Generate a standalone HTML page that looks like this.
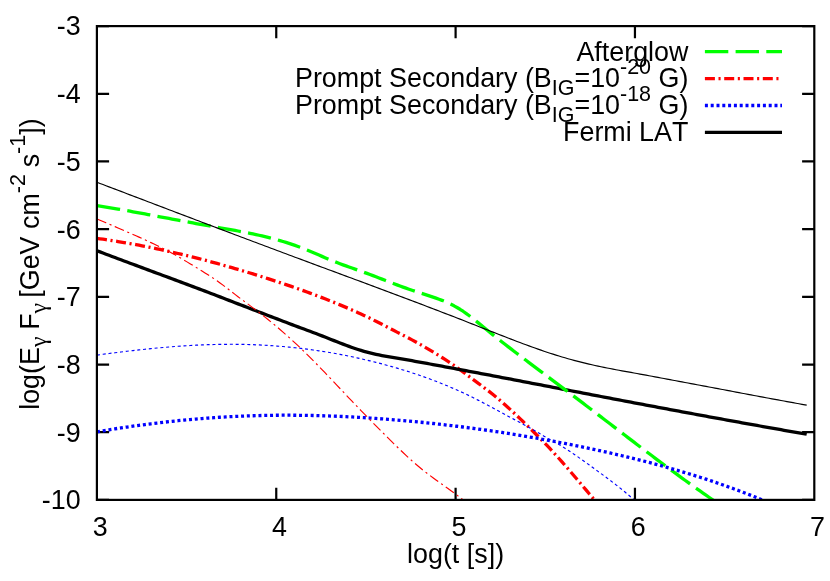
<!DOCTYPE html>
<html><head><meta charset="utf-8"><title>plot</title>
<style>
html,body{margin:0;padding:0;background:#fff;}
svg{display:block;will-change:transform;}
text{font-family:"Liberation Sans",sans-serif;fill:#000;font-kerning:none;}
</style></head><body>
<svg width="830" height="581" viewBox="0 0 830 581">
<rect x="0" y="0" width="830" height="581" fill="#fff"/>
<defs><clipPath id="cp"><rect x="96.90" y="26.10" width="717.40" height="473.80"/></clipPath></defs>
<g stroke="#000" stroke-width="2.2" fill="none" stroke-linecap="butt">
<path d="M276.25,499.90 V487.70 M276.25,26.10 V38.30"/>
<path d="M455.60,499.90 V487.70 M455.60,26.10 V38.30"/>
<path d="M634.95,499.90 V487.70 M634.95,26.10 V38.30"/>
<path d="M96.90,26.10 H109.10 M814.30,26.10 H802.10"/>
<path d="M96.90,93.79 H109.10 M814.30,93.79 H802.10"/>
<path d="M96.90,161.47 H109.10 M814.30,161.47 H802.10"/>
<path d="M96.90,229.16 H109.10 M814.30,229.16 H802.10"/>
<path d="M96.90,296.84 H109.10 M814.30,296.84 H802.10"/>
<path d="M96.90,364.53 H109.10 M814.30,364.53 H802.10"/>
<path d="M96.90,432.21 H109.10 M814.30,432.21 H802.10"/>
<path d="M96.90,499.90 H109.10 M814.30,499.90 H802.10"/>
</g>
<g clip-path="url(#cp)" fill="none" stroke-linecap="butt" stroke-linejoin="round">
<path d="M97.0,238.41 L100.0,238.81 L103.0,239.23 L106.0,239.67 L109.0,240.11 L112.0,240.57 L115.0,241.04 L118.0,241.52 L121.0,242.01 L124.0,242.52 L127.0,243.03 L130.0,243.56 L133.0,244.10 L136.0,244.65 L139.0,245.21 L142.0,245.78 L145.0,246.37 L148.0,246.96 L151.0,247.57 L154.0,248.18 L157.0,248.81 L160.0,249.45 L163.0,250.10 L166.0,250.76 L169.0,251.42 L172.0,252.10 L175.0,252.79 L178.0,253.49 L181.0,254.20 L184.0,254.92 L187.0,255.65 L190.0,256.39 L193.0,257.13 L196.0,257.89 L199.0,258.66 L202.0,259.44 L205.0,260.22 L208.0,261.01 L211.0,261.82 L214.0,262.63 L217.0,263.45 L220.0,264.28 L223.0,265.12 L226.0,265.97 L229.0,266.82 L232.0,267.68 L235.0,268.56 L238.0,269.44 L241.0,270.32 L244.0,271.22 L247.0,272.12 L250.0,273.03 L253.0,273.95 L256.0,274.88 L259.0,275.81 L262.0,276.76 L265.0,277.71 L268.0,278.67 L271.0,279.63 L274.0,280.61 L277.0,281.60 L280.0,282.59 L283.0,283.60 L286.0,284.61 L289.0,285.64 L292.0,286.67 L295.0,287.72 L298.0,288.78 L301.0,289.85 L304.0,290.92 L307.0,292.02 L310.0,293.12 L313.0,294.23 L316.0,295.36 L319.0,296.50 L322.0,297.66 L325.0,298.82 L328.0,300.00 L331.0,301.20 L334.0,302.40 L337.0,303.63 L340.0,304.86 L343.0,306.12 L346.0,307.39 L349.0,308.68 L352.0,309.99 L355.0,311.32 L358.0,312.67 L361.0,314.05 L364.0,315.44 L367.0,316.86 L370.0,318.31 L373.0,319.78 L376.0,321.28 L379.0,322.80 L382.0,324.34 L385.0,325.89 L388.0,327.45 L391.0,329.01 L394.0,330.56 L397.0,332.10 L400.0,333.63 L403.0,335.16 L406.0,336.70 L409.0,338.26 L412.0,339.85 L415.0,341.47 L418.0,343.14 L421.0,344.84 L424.0,346.57 L427.0,348.33 L430.0,350.11 L433.0,351.92 L436.0,353.76 L439.0,355.61 L442.0,357.49 L445.0,359.41 L448.0,361.38 L451.0,363.39 L454.0,365.45 L457.0,367.58 L460.0,369.75 L463.0,371.96 L466.0,374.20 L469.0,376.44 L472.0,378.68 L475.0,380.90 L478.0,383.12 L481.0,385.34 L484.0,387.58 L487.0,389.86 L490.0,392.18 L493.0,394.56 L496.0,397.01 L499.0,399.53 L502.0,402.11 L505.0,404.74 L508.0,407.43 L511.0,410.16 L514.0,412.94 L517.0,415.75 L520.0,418.61 L523.0,421.49 L526.0,424.40 L529.0,427.33 L532.0,430.28 L535.0,433.25 L538.0,436.25 L541.0,439.28 L544.0,442.36 L547.0,445.48 L550.0,448.67 L553.0,451.90 L556.0,455.19 L559.0,458.52 L562.0,461.89 L565.0,465.30 L568.0,468.75 L571.0,472.22 L574.0,475.72 L577.0,479.24 L580.0,482.78 L583.0,486.33 L586.0,489.89 L589.0,493.46 L592.0,497.03 L595.0,500.60 L598.0,504.16 L600.0,506.53" stroke="#ff0000" stroke-width="3.30" stroke-dasharray="10 3.6 2.1 3.6"/>
<path d="M97.0,250.77 L100.0,251.91 L103.0,253.05 L106.0,254.18 L109.0,255.31 L112.0,256.44 L115.0,257.57 L118.0,258.69 L121.0,259.82 L124.0,260.94 L127.0,262.06 L130.0,263.18 L133.0,264.29 L136.0,265.41 L139.0,266.52 L142.0,267.64 L145.0,268.75 L148.0,269.87 L151.0,270.98 L154.0,272.09 L157.0,273.20 L160.0,274.32 L163.0,275.43 L166.0,276.55 L169.0,277.66 L172.0,278.78 L175.0,279.89 L178.0,281.01 L181.0,282.13 L184.0,283.25 L187.0,284.37 L190.0,285.50 L193.0,286.63 L196.0,287.75 L199.0,288.89 L202.0,290.02 L205.0,291.15 L208.0,292.29 L211.0,293.44 L214.0,294.58 L217.0,295.73 L220.0,296.88 L223.0,298.03 L226.0,299.19 L229.0,300.35 L232.0,301.51 L235.0,302.67 L238.0,303.84 L241.0,305.00 L244.0,306.16 L247.0,307.33 L250.0,308.49 L253.0,309.66 L256.0,310.82 L259.0,311.98 L262.0,313.14 L265.0,314.30 L268.0,315.46 L271.0,316.61 L274.0,317.76 L277.0,318.91 L280.0,320.05 L283.0,321.19 L286.0,322.33 L289.0,323.46 L292.0,324.59 L295.0,325.71 L298.0,326.83 L301.0,327.94 L304.0,329.06 L307.0,330.18 L310.0,331.31 L313.0,332.44 L316.0,333.57 L319.0,334.72 L322.0,335.88 L325.0,337.06 L328.0,338.24 L331.0,339.44 L334.0,340.63 L337.0,341.82 L340.0,343.00 L343.0,344.16 L346.0,345.30 L349.0,346.41 L352.0,347.48 L355.0,348.51 L358.0,349.49 L361.0,350.42 L364.0,351.30 L367.0,352.11 L370.0,352.88 L373.0,353.60 L376.0,354.28 L379.0,354.92 L382.0,355.52 L385.0,356.09 L388.0,356.64 L391.0,357.16 L394.0,357.67 L397.0,358.17 L400.0,358.67 L403.0,359.18 L406.0,359.70 L409.0,360.22 L412.0,360.74 L415.0,361.28 L418.0,361.82 L421.0,362.36 L424.0,362.90 L427.0,363.45 L430.0,364.00 L433.0,364.56 L436.0,365.11 L439.0,365.67 L442.0,366.22 L445.0,366.78 L448.0,367.34 L451.0,367.90 L454.0,368.46 L457.0,369.02 L460.0,369.58 L463.0,370.14 L466.0,370.71 L469.0,371.27 L472.0,371.84 L475.0,372.40 L478.0,372.97 L481.0,373.54 L484.0,374.10 L487.0,374.67 L490.0,375.24 L493.0,375.81 L496.0,376.38 L499.0,376.95 L502.0,377.52 L505.0,378.10 L508.0,378.67 L511.0,379.24 L514.0,379.81 L517.0,380.39 L520.0,380.96 L523.0,381.54 L526.0,382.11 L529.0,382.68 L532.0,383.26 L535.0,383.84 L538.0,384.41 L541.0,384.99 L544.0,385.56 L547.0,386.14 L550.0,386.71 L553.0,387.29 L556.0,387.87 L559.0,388.44 L562.0,389.02 L565.0,389.59 L568.0,390.17 L571.0,390.75 L574.0,391.32 L577.0,391.90 L580.0,392.47 L583.0,393.05 L586.0,393.62 L589.0,394.20 L592.0,394.77 L595.0,395.35 L598.0,395.92 L601.0,396.50 L604.0,397.07 L607.0,397.64 L610.0,398.21 L613.0,398.79 L616.0,399.36 L619.0,399.93 L622.0,400.50 L625.0,401.07 L628.0,401.64 L631.0,402.21 L634.0,402.78 L637.0,403.34 L640.0,403.91 L643.0,404.48 L646.0,405.04 L649.0,405.61 L652.0,406.17 L655.0,406.73 L658.0,407.30 L661.0,407.86 L664.0,408.42 L667.0,408.98 L670.0,409.54 L673.0,410.10 L676.0,410.66 L679.0,411.22 L682.0,411.77 L685.0,412.33 L688.0,412.89 L691.0,413.44 L694.0,414.00 L697.0,414.55 L700.0,415.10 L703.0,415.66 L706.0,416.21 L709.0,416.76 L712.0,417.31 L715.0,417.86 L718.0,418.41 L721.0,418.95 L724.0,419.50 L727.0,420.05 L730.0,420.59 L733.0,421.14 L736.0,421.68 L739.0,422.22 L742.0,422.76 L745.0,423.31 L748.0,423.85 L751.0,424.39 L754.0,424.92 L757.0,425.46 L760.0,426.00 L763.0,426.54 L766.0,427.07 L769.0,427.61 L772.0,428.14 L775.0,428.67 L778.0,429.20 L781.0,429.74 L784.0,430.27 L787.0,430.79 L790.0,431.32 L793.0,431.85 L796.0,432.38 L799.0,432.90 L802.0,433.43 L805.0,433.95 L806.7,434.25" stroke="#000" stroke-width="3.30"/>
<path d="M97.0,205.61 L100.0,206.09 L103.0,206.57 L106.0,207.07 L109.0,207.57 L112.0,208.08 L115.0,208.59 L118.0,209.11 L121.0,209.64 L124.0,210.17 L127.0,210.70 L130.0,211.24 L133.0,211.78 L136.0,212.33 L139.0,212.88 L142.0,213.43 L145.0,213.99 L148.0,214.54 L151.0,215.10 L154.0,215.67 L157.0,216.23 L160.0,216.79 L163.0,217.36 L166.0,217.92 L169.0,218.49 L172.0,219.05 L175.0,219.62 L178.0,220.18 L181.0,220.74 L184.0,221.31 L187.0,221.86 L190.0,222.42 L193.0,222.97 L196.0,223.52 L199.0,224.07 L202.0,224.62 L205.0,225.16 L208.0,225.69 L211.0,226.22 L214.0,226.75 L217.0,227.27 L220.0,227.80 L223.0,228.32 L226.0,228.84 L229.0,229.37 L232.0,229.91 L235.0,230.45 L238.0,231.00 L241.0,231.56 L244.0,232.13 L247.0,232.72 L250.0,233.32 L253.0,233.94 L256.0,234.58 L259.0,235.24 L262.0,235.92 L265.0,236.63 L268.0,237.36 L271.0,238.13 L274.0,238.92 L277.0,239.74 L280.0,240.59 L283.0,241.48 L286.0,242.40 L289.0,243.37 L292.0,244.37 L295.0,245.41 L298.0,246.50 L301.0,247.63 L304.0,248.81 L307.0,250.02 L310.0,251.26 L313.0,252.52 L316.0,253.80 L319.0,255.08 L322.0,256.37 L325.0,257.65 L328.0,258.92 L331.0,260.16 L334.0,261.38 L337.0,262.56 L340.0,263.71 L343.0,264.83 L346.0,265.92 L349.0,267.00 L352.0,268.06 L355.0,269.12 L358.0,270.17 L361.0,271.23 L364.0,272.29 L367.0,273.37 L370.0,274.47 L373.0,275.60 L376.0,276.76 L379.0,277.94 L382.0,279.14 L385.0,280.33 L388.0,281.51 L391.0,282.66 L394.0,283.80 L397.0,284.92 L400.0,286.01 L403.0,287.09 L406.0,288.15 L409.0,289.20 L412.0,290.22 L415.0,291.23 L418.0,292.22 L421.0,293.19 L424.0,294.15 L427.0,295.12 L430.0,296.09 L433.0,297.08 L436.0,298.11 L439.0,299.20 L442.0,300.34 L445.0,301.56 L448.0,302.88 L451.0,304.29 L454.0,305.82 L457.0,307.48 L460.0,309.28 L463.0,311.23 L466.0,313.32 L469.0,315.52 L472.0,317.82 L475.0,320.19 L478.0,322.61 L481.0,325.08 L484.0,327.55 L487.0,330.01 L490.0,332.44 L493.0,334.85 L496.0,337.24 L499.0,339.61 L502.0,341.95 L505.0,344.28 L508.0,346.60 L511.0,348.91 L514.0,351.20 L517.0,353.48 L520.0,355.76 L523.0,358.03 L526.0,360.30 L529.0,362.56 L532.0,364.82 L535.0,367.08 L538.0,369.33 L541.0,371.58 L544.0,373.83 L547.0,376.07 L550.0,378.32 L553.0,380.57 L556.0,382.82 L559.0,385.06 L562.0,387.32 L565.0,389.57 L568.0,391.83 L571.0,394.09 L574.0,396.35 L577.0,398.62 L580.0,400.90 L583.0,403.17 L586.0,405.46 L589.0,407.74 L592.0,410.03 L595.0,412.32 L598.0,414.61 L601.0,416.91 L604.0,419.21 L607.0,421.50 L610.0,423.80 L613.0,426.10 L616.0,428.40 L619.0,430.69 L622.0,432.99 L625.0,435.28 L628.0,437.58 L631.0,439.87 L634.0,442.15 L637.0,444.44 L640.0,446.72 L643.0,449.00 L646.0,451.27 L649.0,453.54 L652.0,455.80 L655.0,458.06 L658.0,460.31 L661.0,462.55 L664.0,464.79 L667.0,467.02 L670.0,469.24 L673.0,471.46 L676.0,473.67 L679.0,475.86 L682.0,478.05 L685.0,480.23 L688.0,482.40 L691.0,484.56 L694.0,486.71 L697.0,488.85 L700.0,490.97 L703.0,493.08 L706.0,495.18 L709.0,497.27 L712.0,499.35 L715.0,501.41 L718.0,503.45 L720.0,504.81" stroke="#00ff00" stroke-width="3.30" stroke-dasharray="23.4 7.3"/>
<path d="M97.0,431.76 L100.0,431.26 L103.0,430.76 L106.0,430.26 L109.0,429.78 L112.0,429.30 L115.0,428.83 L118.0,428.37 L121.0,427.91 L124.0,427.46 L127.0,427.02 L130.0,426.59 L133.0,426.16 L136.0,425.74 L139.0,425.33 L142.0,424.93 L145.0,424.54 L148.0,424.15 L151.0,423.77 L154.0,423.40 L157.0,423.04 L160.0,422.68 L163.0,422.33 L166.0,421.99 L169.0,421.66 L172.0,421.34 L175.0,421.02 L178.0,420.71 L181.0,420.41 L184.0,420.12 L187.0,419.84 L190.0,419.56 L193.0,419.30 L196.0,419.04 L199.0,418.79 L202.0,418.54 L205.0,418.31 L208.0,418.09 L211.0,417.87 L214.0,417.66 L217.0,417.46 L220.0,417.27 L223.0,417.08 L226.0,416.91 L229.0,416.74 L232.0,416.59 L235.0,416.44 L238.0,416.30 L241.0,416.17 L244.0,416.04 L247.0,415.93 L250.0,415.82 L253.0,415.73 L256.0,415.64 L259.0,415.56 L262.0,415.49 L265.0,415.42 L268.0,415.37 L271.0,415.32 L274.0,415.28 L277.0,415.25 L280.0,415.23 L283.0,415.22 L286.0,415.21 L289.0,415.21 L292.0,415.22 L295.0,415.24 L298.0,415.27 L301.0,415.30 L304.0,415.34 L307.0,415.39 L310.0,415.44 L313.0,415.50 L316.0,415.57 L319.0,415.65 L322.0,415.74 L325.0,415.83 L328.0,415.93 L331.0,416.03 L334.0,416.15 L337.0,416.27 L340.0,416.39 L343.0,416.53 L346.0,416.67 L349.0,416.82 L352.0,416.97 L355.0,417.13 L358.0,417.30 L361.0,417.47 L364.0,417.65 L367.0,417.84 L370.0,418.03 L373.0,418.23 L376.0,418.44 L379.0,418.65 L382.0,418.87 L385.0,419.09 L388.0,419.32 L391.0,419.56 L394.0,419.80 L397.0,420.05 L400.0,420.31 L403.0,420.57 L406.0,420.83 L409.0,421.10 L412.0,421.38 L415.0,421.66 L418.0,421.95 L421.0,422.25 L424.0,422.55 L427.0,422.86 L430.0,423.17 L433.0,423.49 L436.0,423.82 L439.0,424.15 L442.0,424.49 L445.0,424.83 L448.0,425.18 L451.0,425.53 L454.0,425.89 L457.0,426.26 L460.0,426.64 L463.0,427.01 L466.0,427.40 L469.0,427.79 L472.0,428.19 L475.0,428.59 L478.0,429.00 L481.0,429.41 L484.0,429.84 L487.0,430.26 L490.0,430.70 L493.0,431.14 L496.0,431.58 L499.0,432.03 L502.0,432.49 L505.0,432.95 L508.0,433.42 L511.0,433.90 L514.0,434.38 L517.0,434.86 L520.0,435.36 L523.0,435.86 L526.0,436.36 L529.0,436.87 L532.0,437.39 L535.0,437.91 L538.0,438.44 L541.0,438.98 L544.0,439.52 L547.0,440.07 L550.0,440.62 L553.0,441.18 L556.0,441.75 L559.0,442.32 L562.0,442.90 L565.0,443.48 L568.0,444.07 L571.0,444.67 L574.0,445.27 L577.0,445.88 L580.0,446.49 L583.0,447.11 L586.0,447.74 L589.0,448.37 L592.0,449.01 L595.0,449.66 L598.0,450.31 L601.0,450.96 L604.0,451.63 L607.0,452.30 L610.0,452.97 L613.0,453.66 L616.0,454.35 L619.0,455.05 L622.0,455.76 L625.0,456.47 L628.0,457.19 L631.0,457.92 L634.0,458.66 L637.0,459.40 L640.0,460.16 L643.0,460.92 L646.0,461.69 L649.0,462.47 L652.0,463.26 L655.0,464.06 L658.0,464.87 L661.0,465.68 L664.0,466.51 L667.0,467.35 L670.0,468.20 L673.0,469.05 L676.0,469.92 L679.0,470.80 L682.0,471.68 L685.0,472.58 L688.0,473.49 L691.0,474.41 L694.0,475.34 L697.0,476.29 L700.0,477.24 L703.0,478.21 L706.0,479.19 L709.0,480.18 L712.0,481.18 L715.0,482.19 L718.0,483.22 L721.0,484.26 L724.0,485.31 L727.0,486.38 L730.0,487.46 L733.0,488.55 L736.0,489.65 L739.0,490.77 L742.0,491.90 L745.0,493.05 L748.0,494.21 L751.0,495.38 L754.0,496.57 L757.0,497.78 L760.0,498.99 L763.0,500.23 L766.0,501.47 L769.0,502.74 L770.0,503.16" stroke="#0000ff" stroke-width="3.30" stroke-dasharray="3.0 2.8"/>
<path d="M97.0,182.27 L100.0,183.42 L103.0,184.56 L106.0,185.70 L109.0,186.84 L112.0,187.99 L115.0,189.13 L118.0,190.27 L121.0,191.41 L124.0,192.56 L127.0,193.70 L130.0,194.84 L133.0,195.98 L136.0,197.13 L139.0,198.27 L142.0,199.41 L145.0,200.55 L148.0,201.69 L151.0,202.83 L154.0,203.98 L157.0,205.12 L160.0,206.26 L163.0,207.40 L166.0,208.54 L169.0,209.68 L172.0,210.82 L175.0,211.96 L178.0,213.10 L181.0,214.24 L184.0,215.38 L187.0,216.52 L190.0,217.65 L193.0,218.79 L196.0,219.93 L199.0,221.07 L202.0,222.20 L205.0,223.34 L208.0,224.48 L211.0,225.61 L214.0,226.75 L217.0,227.88 L220.0,229.01 L223.0,230.15 L226.0,231.28 L229.0,232.41 L232.0,233.54 L235.0,234.68 L238.0,235.81 L241.0,236.94 L244.0,238.07 L247.0,239.20 L250.0,240.32 L253.0,241.45 L256.0,242.58 L259.0,243.71 L262.0,244.83 L265.0,245.96 L268.0,247.08 L271.0,248.21 L274.0,249.33 L277.0,250.45 L280.0,251.57 L283.0,252.69 L286.0,253.81 L289.0,254.93 L292.0,256.05 L295.0,257.17 L298.0,258.29 L301.0,259.40 L304.0,260.52 L307.0,261.63 L310.0,262.75 L313.0,263.86 L316.0,264.97 L319.0,266.09 L322.0,267.20 L325.0,268.31 L328.0,269.42 L331.0,270.53 L334.0,271.65 L337.0,272.76 L340.0,273.87 L343.0,274.98 L346.0,276.10 L349.0,277.21 L352.0,278.32 L355.0,279.44 L358.0,280.55 L361.0,281.66 L364.0,282.78 L367.0,283.90 L370.0,285.01 L373.0,286.13 L376.0,287.25 L379.0,288.37 L382.0,289.49 L385.0,290.61 L388.0,291.73 L391.0,292.85 L394.0,293.98 L397.0,295.10 L400.0,296.23 L403.0,297.36 L406.0,298.49 L409.0,299.62 L412.0,300.75 L415.0,301.89 L418.0,303.03 L421.0,304.16 L424.0,305.31 L427.0,306.45 L430.0,307.59 L433.0,308.74 L436.0,309.89 L439.0,311.04 L442.0,312.19 L445.0,313.35 L448.0,314.50 L451.0,315.66 L454.0,316.83 L457.0,317.99 L460.0,319.16 L463.0,320.33 L466.0,321.50 L469.0,322.68 L472.0,323.86 L475.0,325.04 L478.0,326.22 L481.0,327.41 L484.0,328.59 L487.0,329.78 L490.0,330.96 L493.0,332.14 L496.0,333.32 L499.0,334.49 L502.0,335.66 L505.0,336.83 L508.0,337.99 L511.0,339.14 L514.0,340.29 L517.0,341.43 L520.0,342.56 L523.0,343.68 L526.0,344.79 L529.0,345.89 L532.0,346.98 L535.0,348.05 L538.0,349.12 L541.0,350.16 L544.0,351.19 L547.0,352.20 L550.0,353.19 L553.0,354.16 L556.0,355.11 L559.0,356.03 L562.0,356.94 L565.0,357.82 L568.0,358.68 L571.0,359.52 L574.0,360.34 L577.0,361.14 L580.0,361.92 L583.0,362.67 L586.0,363.41 L589.0,364.12 L592.0,364.81 L595.0,365.48 L598.0,366.13 L601.0,366.76 L604.0,367.37 L607.0,367.97 L610.0,368.56 L613.0,369.13 L616.0,369.70 L619.0,370.25 L622.0,370.81 L625.0,371.35 L628.0,371.90 L631.0,372.44 L634.0,372.99 L637.0,373.54 L640.0,374.09 L643.0,374.64 L646.0,375.19 L649.0,375.74 L652.0,376.29 L655.0,376.85 L658.0,377.41 L661.0,377.96 L664.0,378.52 L667.0,379.08 L670.0,379.64 L673.0,380.20 L676.0,380.76 L679.0,381.33 L682.0,381.89 L685.0,382.45 L688.0,383.02 L691.0,383.58 L694.0,384.15 L697.0,384.71 L700.0,385.28 L703.0,385.84 L706.0,386.41 L709.0,386.98 L712.0,387.54 L715.0,388.11 L718.0,388.68 L721.0,389.24 L724.0,389.81 L727.0,390.38 L730.0,390.94 L733.0,391.51 L736.0,392.07 L739.0,392.64 L742.0,393.20 L745.0,393.77 L748.0,394.33 L751.0,394.90 L754.0,395.46 L757.0,396.02 L760.0,396.58 L763.0,397.14 L766.0,397.70 L769.0,398.26 L772.0,398.82 L775.0,399.38 L778.0,399.93 L781.0,400.49 L784.0,401.04 L787.0,401.59 L790.0,402.14 L793.0,402.69 L796.0,403.24 L799.0,403.79 L802.0,404.33 L805.0,404.88 L806.7,405.18" stroke="#000" stroke-width="1.15"/>
<path d="M97.0,355.10 L100.0,354.70 L103.0,354.29 L106.0,353.90 L109.0,353.50 L112.0,353.11 L115.0,352.73 L118.0,352.35 L121.0,351.98 L124.0,351.62 L127.0,351.26 L130.0,350.90 L133.0,350.56 L136.0,350.22 L139.0,349.88 L142.0,349.56 L145.0,349.24 L148.0,348.93 L151.0,348.63 L154.0,348.33 L157.0,348.04 L160.0,347.77 L163.0,347.50 L166.0,347.24 L169.0,346.99 L172.0,346.75 L175.0,346.52 L178.0,346.30 L181.0,346.08 L184.0,345.88 L187.0,345.69 L190.0,345.52 L193.0,345.35 L196.0,345.19 L199.0,345.05 L202.0,344.92 L205.0,344.79 L208.0,344.69 L211.0,344.59 L214.0,344.51 L217.0,344.44 L220.0,344.38 L223.0,344.34 L226.0,344.31 L229.0,344.29 L232.0,344.29 L235.0,344.30 L238.0,344.33 L241.0,344.37 L244.0,344.43 L247.0,344.50 L250.0,344.59 L253.0,344.69 L256.0,344.81 L259.0,344.94 L262.0,345.09 L265.0,345.25 L268.0,345.43 L271.0,345.62 L274.0,345.83 L277.0,346.06 L280.0,346.30 L283.0,346.55 L286.0,346.82 L289.0,347.11 L292.0,347.41 L295.0,347.73 L298.0,348.06 L301.0,348.41 L304.0,348.78 L307.0,349.16 L310.0,349.55 L313.0,349.97 L316.0,350.40 L319.0,350.84 L322.0,351.30 L325.0,351.78 L328.0,352.27 L331.0,352.78 L334.0,353.30 L337.0,353.84 L340.0,354.40 L343.0,354.97 L346.0,355.56 L349.0,356.17 L352.0,356.79 L355.0,357.43 L358.0,358.09 L361.0,358.76 L364.0,359.45 L367.0,360.15 L370.0,360.88 L373.0,361.61 L376.0,362.37 L379.0,363.14 L382.0,363.93 L385.0,364.74 L388.0,365.56 L391.0,366.40 L394.0,367.25 L397.0,368.13 L400.0,369.02 L403.0,369.93 L406.0,370.86 L409.0,371.81 L412.0,372.78 L415.0,373.77 L418.0,374.78 L421.0,375.81 L424.0,376.86 L427.0,377.94 L430.0,379.04 L433.0,380.16 L436.0,381.31 L439.0,382.48 L442.0,383.67 L445.0,384.89 L448.0,386.14 L451.0,387.41 L454.0,388.71 L457.0,390.04 L460.0,391.39 L463.0,392.77 L466.0,394.18 L469.0,395.62 L472.0,397.09 L475.0,398.59 L478.0,400.12 L481.0,401.67 L484.0,403.24 L487.0,404.83 L490.0,406.44 L493.0,408.05 L496.0,409.67 L499.0,411.30 L502.0,412.93 L505.0,414.55 L508.0,416.17 L511.0,417.78 L514.0,419.38 L517.0,420.97 L520.0,422.56 L523.0,424.17 L526.0,425.79 L529.0,427.44 L532.0,429.12 L535.0,430.84 L538.0,432.61 L541.0,434.40 L544.0,436.19 L547.0,437.94 L550.0,439.62 L553.0,441.25 L556.0,442.89 L559.0,444.62 L562.0,446.41 L565.0,448.28 L568.0,450.20 L571.0,452.17 L574.0,454.19 L577.0,456.25 L580.0,458.35 L583.0,460.48 L586.0,462.63 L589.0,464.79 L592.0,466.97 L595.0,469.15 L598.0,471.34 L601.0,473.54 L604.0,475.75 L607.0,477.98 L610.0,480.24 L613.0,482.53 L616.0,484.86 L619.0,487.22 L622.0,489.62 L625.0,492.07 L628.0,494.58 L631.0,497.14 L634.0,499.76 L637.0,502.45 L640.0,505.21 L641.0,506.15" stroke="#0000ff" stroke-width="1.15" stroke-dasharray="3.0 2.8"/>
<path d="M97.0,219.00 L100.0,220.26 L103.0,221.52 L106.0,222.79 L109.0,224.06 L112.0,225.34 L115.0,226.63 L118.0,227.92 L121.0,229.22 L124.0,230.53 L127.0,231.84 L130.0,233.15 L133.0,234.47 L136.0,235.80 L139.0,237.14 L142.0,238.48 L145.0,239.84 L148.0,241.22 L151.0,242.62 L154.0,244.04 L157.0,245.48 L160.0,246.96 L163.0,248.46 L166.0,250.00 L169.0,251.58 L172.0,253.21 L175.0,254.87 L178.0,256.57 L181.0,258.31 L184.0,260.08 L187.0,261.88 L190.0,263.69 L193.0,265.53 L196.0,267.37 L199.0,269.22 L202.0,271.07 L205.0,272.93 L208.0,274.80 L211.0,276.72 L214.0,278.70 L217.0,280.76 L220.0,282.92 L223.0,285.15 L226.0,287.45 L229.0,289.77 L232.0,292.10 L235.0,294.40 L238.0,296.68 L241.0,298.93 L244.0,301.16 L247.0,303.38 L250.0,305.61 L253.0,307.85 L256.0,310.11 L259.0,312.40 L262.0,314.72 L265.0,317.09 L268.0,319.50 L271.0,321.94 L274.0,324.42 L277.0,326.94 L280.0,329.51 L283.0,332.11 L286.0,334.74 L289.0,337.42 L292.0,340.14 L295.0,342.90 L298.0,345.69 L301.0,348.54 L304.0,351.43 L307.0,354.36 L310.0,357.34 L313.0,360.35 L316.0,363.40 L319.0,366.48 L322.0,369.58 L325.0,372.70 L328.0,375.85 L331.0,379.00 L334.0,382.17 L337.0,385.35 L340.0,388.52 L343.0,391.70 L346.0,394.88 L349.0,398.04 L352.0,401.20 L355.0,404.34 L358.0,407.46 L361.0,410.57 L364.0,413.67 L367.0,416.75 L370.0,419.81 L373.0,422.86 L376.0,425.90 L379.0,428.92 L382.0,431.93 L385.0,434.92 L388.0,437.90 L391.0,440.87 L394.0,443.82 L397.0,446.75 L400.0,449.66 L403.0,452.53 L406.0,455.36 L409.0,458.13 L412.0,460.84 L415.0,463.48 L418.0,466.05 L421.0,468.52 L424.0,470.92 L427.0,473.25 L430.0,475.53 L433.0,477.75 L436.0,479.94 L439.0,482.11 L442.0,484.26 L445.0,486.40 L448.0,488.56 L451.0,490.72 L454.0,492.92 L457.0,495.15 L460.0,497.44 L463.0,499.78 L466.0,502.20 L469.0,504.69 L470.0,505.54" stroke="#ff0000" stroke-width="1.15" stroke-dasharray="10 3.6 2.1 3.6"/>
</g>
<rect x="96.90" y="26.10" width="717.40" height="473.80" stroke="#000" stroke-width="2.2" fill="none"/>
<g font-size="26.86">
<text x="80.7" y="34.80" text-anchor="end">-3</text>
<text x="80.7" y="103.19" text-anchor="end">-4</text>
<text x="80.7" y="170.87" text-anchor="end">-5</text>
<text x="80.7" y="238.56" text-anchor="end">-6</text>
<text x="80.7" y="306.24" text-anchor="end">-7</text>
<text x="80.7" y="373.93" text-anchor="end">-8</text>
<text x="80.7" y="441.61" text-anchor="end">-9</text>
<text x="80.7" y="509.30" text-anchor="end">-10</text>
<text x="100.20" y="536.2" text-anchor="middle">3</text>
<text x="279.55" y="536.2" text-anchor="middle">4</text>
<text x="458.90" y="536.2" text-anchor="middle">5</text>
<text x="638.25" y="536.2" text-anchor="middle">6</text>
<text x="817.60" y="536.2" text-anchor="middle">7</text>
<text x="455.6" y="562.9" text-anchor="middle">log(t [s])</text>
<text transform="translate(39.2,409.8) rotate(-90)" text-anchor="start">log(E<tspan font-size="23.64" dy="6.9" font-family="Liberation Serif, serif">γ</tspan><tspan dy="-6.9" dx="-0.65"> F</tspan><tspan font-size="23.64" dy="6.9" font-family="Liberation Serif, serif">γ</tspan><tspan dy="-6.9" dx="-2.2"> [GeV cm</tspan><tspan font-size="21.49" dy="-13.8">-2</tspan><tspan dy="13.8" dx="-0.7"> s</tspan><tspan font-size="21.49" dy="-13.8">-1</tspan><tspan dy="13.8" dx="0.1">])</tspan></text>
<text x="688.40" y="60.55" text-anchor="end">Afterglow</text>
<text x="688.40" y="87.45" text-anchor="end">Prompt Secondary (B<tspan font-size="21.49" dy="8">IG</tspan><tspan dy="-8">=10</tspan><tspan font-size="21.49" dy="-13.6">-20</tspan><tspan dy="13.6"> G)</tspan></text>
<text x="688.40" y="114.35" text-anchor="end">Prompt Secondary (B<tspan font-size="21.49" dy="8">IG</tspan><tspan dy="-8">=10</tspan><tspan font-size="21.49" dy="-13.6">-18</tspan><tspan dy="13.6"> G)</tspan></text>
<text x="688.40" y="141.25" text-anchor="end">Fermi LAT</text>
</g>
<g fill="none" stroke-width="3.3" stroke-linecap="butt">
<path d="M704.9,51.70 H782" stroke="#00ff00" stroke-dasharray="23.4 7.3"/>
<path d="M704.9,78.60 H782" stroke="#ff0000" stroke-dasharray="10 3.6 2.1 3.6"/>
<path d="M704.9,105.50 H782" stroke="#0000ff" stroke-dasharray="3.0 2.8"/>
<path d="M704.9,132.40 H782" stroke="#000"/>
</g>
</svg></body></html>
